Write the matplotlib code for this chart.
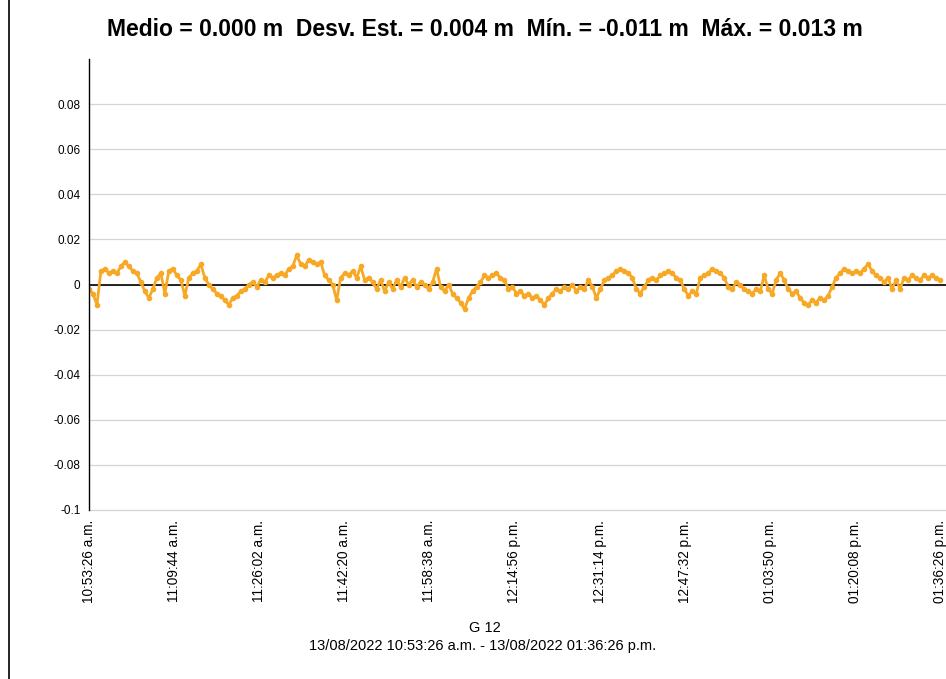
import numpy as np
import matplotlib.pyplot as plt
from matplotlib.lines import Line2D

# elevation residuals (m) of station G 12, 13/08/2022 10:53:26 a.m. - 01:36:26 p.m.
residuals = [
    -0.002, -0.004, -0.009, 0.006, 0.007, 0.005, 0.006, 0.005, 0.008, 0.010,
    0.008, 0.006, 0.005, 0.001, -0.003, -0.006, -0.002, 0.003, 0.005, -0.004,
    0.006, 0.007, 0.004, 0.002, -0.005, 0.003, 0.005, 0.006, 0.009, 0.003,
    0.000, -0.002, -0.004, -0.005, -0.007, -0.009, -0.006, -0.005, -0.003, -0.002,
    0.000, 0.001, -0.001, 0.002, 0.001, 0.004, 0.003, 0.004, 0.005, 0.004,
    0.007, 0.008, 0.013, 0.009, 0.008, 0.011, 0.010, 0.009, 0.010, 0.004,
    0.002, 0.000, -0.007, 0.003, 0.005, 0.004, 0.006, 0.003, 0.008, 0.002,
    0.003, 0.001, -0.002, 0.002, -0.003, 0.001, -0.002, 0.002, -0.001, 0.003,
    0.000, 0.002, -0.001, 0.001, 0.000, -0.002, 0.001, 0.007, -0.001, -0.003,
    0.000, -0.004, -0.006, -0.008, -0.011, -0.006, -0.003, -0.001, 0.001, 0.004,
    0.003, 0.004, 0.005, 0.003, 0.002, -0.002, -0.001, -0.004, -0.003, -0.005,
    -0.004, -0.006, -0.005, -0.007, -0.009, -0.006, -0.004, -0.002, -0.003, -0.001,
    -0.002, 0.000, -0.003, -0.001, -0.002, 0.002, -0.001, -0.006, -0.002, 0.002,
    0.003, 0.004, 0.006, 0.007, 0.006, 0.005, 0.003, -0.002, -0.004, -0.001,
    0.002, 0.003, 0.002, 0.004, 0.005, 0.006, 0.005, 0.003, 0.002, -0.002,
    -0.005, -0.003, -0.004, 0.003, 0.004, 0.005, 0.007, 0.006, 0.005, 0.003,
    -0.001, -0.002, 0.001, 0.000, -0.002, -0.003, -0.004, -0.002, -0.003, 0.004,
    -0.002, -0.004, 0.002, 0.005, 0.002, -0.002, -0.004, -0.003, -0.006, -0.008,
    -0.009, -0.007, -0.008, -0.006, -0.007, -0.005, -0.001, 0.003, 0.005, 0.007,
    0.006, 0.005, 0.006, 0.005, 0.007, 0.009, 0.006, 0.004, 0.003, 0.001,
    0.003, -0.002, 0.002, -0.002, 0.003, 0.002, 0.004, 0.003, 0.002, 0.004,
    0.003, 0.004, 0.003, 0.002,
]

tick_labels = [
    "10:53:26 a.m.", "11:09:44 a.m.", "11:26:02 a.m.", "11:42:20 a.m.",
    "11:58:38 a.m.", "12:14:56 p.m.", "12:31:14 p.m.", "12:47:32 p.m.",
    "01:03:50 p.m.", "01:20:08 p.m.", "01:36:26 p.m.",
]
y_ticks = [-0.1, -0.08, -0.06, -0.04, -0.02, 0, 0.02, 0.04, 0.06, 0.08]
y_tick_labels = ["-0.1", "-0.08", "-0.06", "-0.04", "-0.02", "0",
                 "0.02", "0.04", "0.06", "0.08"]

span = 9780  # seconds from first to last epoch
step = span / (len(tick_labels) - 1)
t = np.linspace(0, span, len(residuals))

plt.rcParams['font.family'] = ['Liberation Sans', 'DejaVu Sans']

fig = plt.figure(figsize=(9.46, 6.79), dpi=100)
ax = fig.add_axes([0.094, 0.249, 0.906, 0.664])

for y in y_ticks:
    ax.axhline(y, color='#d4d4d4', lw=0.9, zorder=0, clip_on=False)
ax.axhline(0, color='black', lw=1.2, zorder=1)

ax.plot(t, residuals, color='#f7a825', lw=2.0, marker='o', ms=3.0,
        mec='#f7a825', zorder=2)

ax.set_xlim(0, span * 857 / 851)
ax.set_ylim(-0.1, 0.1)
ax.set_xticks([i * step for i in range(len(tick_labels))])
ax.set_xticklabels(tick_labels, rotation=90, fontsize=9.8)
ax.set_yticks(y_ticks)
ax.set_yticklabels(y_tick_labels, fontsize=8.5)
ax.tick_params(length=0, pad=6)
ax.tick_params(axis='x', pad=7)

for side in ['top', 'right', 'bottom']:
    ax.spines[side].set_visible(False)
ax.spines['left'].set_linewidth(1.0)

fig.text(0.513, 0.957,
         "Medio = 0.000 m  Desv. Est. = 0.004 m  Mín. = -0.011 m  Máx. = 0.013 m",
         ha='center', va='center', fontsize=16.5, fontweight='bold')
fig.text(0.513, 0.075, "G 12", ha='center', va='center', fontsize=10.5)
fig.text(0.51, 0.048,
         "13/08/2022 10:53:26 a.m. - 13/08/2022 01:36:26 p.m.",
         ha='center', va='center', fontsize=10.5)

fig.add_artist(Line2D([0.01, 0.01], [0, 1], color='black', lw=1.2))

fig.savefig('out.png', dpi=100)
